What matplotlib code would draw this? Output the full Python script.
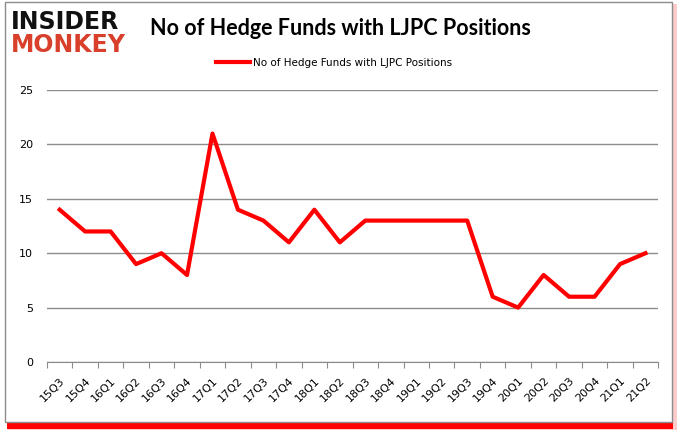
import matplotlib.pyplot as plt
from matplotlib.patches import Rectangle

quarters = ["15Q3", "15Q4", "16Q1", "16Q2", "16Q3", "16Q4", "17Q1", "17Q2",
            "17Q3", "17Q4", "18Q1", "18Q2", "18Q3", "18Q4", "19Q1", "19Q2",
            "19Q3", "19Q4", "20Q1", "20Q2", "20Q3", "20Q4", "21Q1", "21Q2"]
funds = [14, 12, 12, 9, 10, 8, 21, 14, 13, 11, 14, 11, 13, 13, 13, 13,
         13, 6, 5, 8, 6, 6, 9, 10]
yticks = [0, 5, 10, 15, 20, 25]

fig = plt.figure(figsize=(6.8, 4.33), dpi=100)

# frame: grey border with a red shadow below and to the right
fig.patches.append(Rectangle((0.012, 0.008), 0.983, 0.982, transform=fig.transFigure,
                             facecolor="#ff9999", edgecolor="none", alpha=0.5, zorder=-3))
fig.patches.append(Rectangle((0.010, 0.010), 0.980, 0.986, transform=fig.transFigure,
                             facecolor="#ff0000", edgecolor="none", zorder=-2))
fig.patches.append(Rectangle((0.007, 0.025), 0.981, 0.970, transform=fig.transFigure,
                             facecolor="white", edgecolor="#8c8c8c", linewidth=1, zorder=-1))

ax = fig.add_axes([0.069, 0.164, 0.899, 0.628])
ax.patch.set_alpha(0)

x = list(range(len(quarters)))
ax.plot(x, funds, color="#ff0000", linewidth=3, label="No of Hedge Funds with LJPC Positions")

ax.set_xlim(-0.5, len(quarters) - 0.5)
ax.set_ylim(0, 25)
ax.set_yticks(yticks)
ax.grid(axis="y", color="#8c8c8c", linewidth=1)
ax.set_axisbelow(True)
ax.set_xticks([i - 0.5 for i in range(len(quarters) + 1)], minor=False)
ax.set_xticklabels([])
ax.set_xticks(x, minor=True)
ax.set_xticklabels(quarters, minor=True, rotation=45, ha="right", va="top",
                   rotation_mode="anchor", fontsize=8)
ax.tick_params(axis="x", which="minor", length=0, pad=10)
ax.tick_params(axis="x", which="major", length=4, color="#8c8c8c")
ax.tick_params(axis="y", length=0, labelsize=8, pad=10)
for s in ["top", "right", "left"]:
    ax.spines[s].set_visible(False)
ax.spines["bottom"].set_color("#8c8c8c")

ax.legend(loc="center", bbox_to_anchor=(0.47, 1.1), frameon=False, fontsize=7.5,
          handlelength=3.2, handletextpad=0.3)

fig.text(0.5, 0.935, "No of Hedge Funds with LJPC Positions", ha="center", va="center",
         fontsize=15.5, fontweight="bold", family="Lato")
fig.text(0.016, 0.950, "INSIDER", ha="left", va="center", fontsize=17,
         fontweight="heavy", color="#111111", family="DejaVu Sans")
fig.text(0.016, 0.895, "MONKEY", ha="left", va="center", fontsize=17,
         fontweight="heavy", color="#d9402b", family="DejaVu Sans")

fig.savefig("out.png", dpi=100)
